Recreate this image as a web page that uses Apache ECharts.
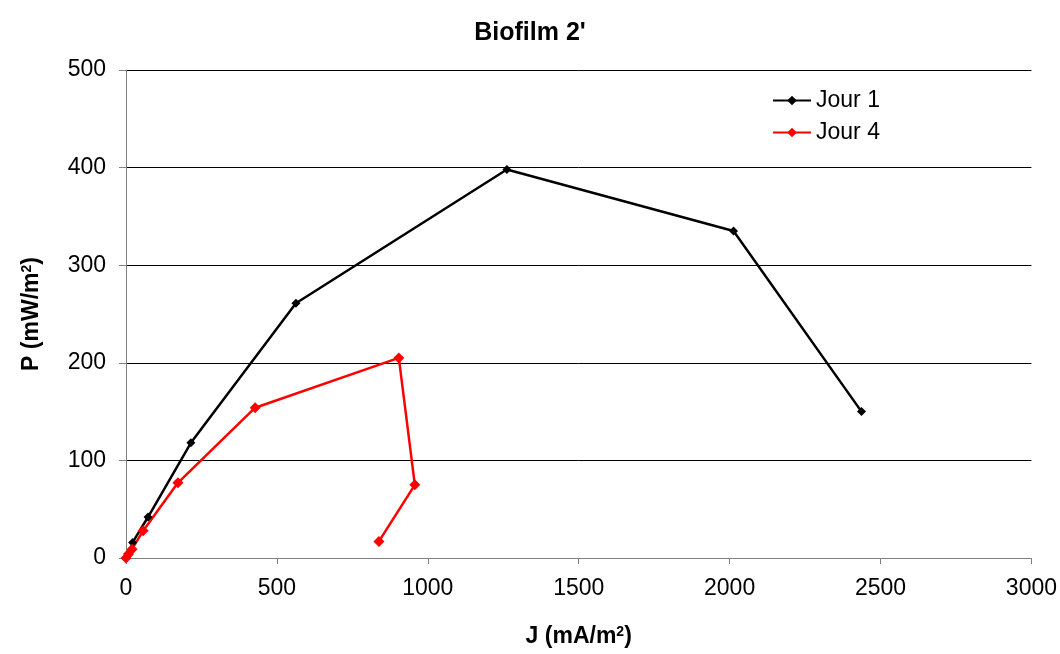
<!DOCTYPE html>
<html><head><meta charset="utf-8">
<script src="https://cdn.jsdelivr.net/npm/echarts@6/dist/echarts.min.js"></script>
<style>html,body{margin:0;padding:0;background:#fff}#c{width:1060px;height:654px}</style>
</head><body><div id="c"></div>
<script>
const jour1J = [0, 8, 22, 73, 215, 563, 1262, 2013, 2437];
const jour1P = [0, 3, 16, 42, 118, 261, 398, 335, 150];
const jour4J = [0, 8, 20, 57, 172, 428, 904, 957, 838];
const jour4P = [0, 4, 9, 28, 77, 154, 205, 75, 17];
const seriesNames = ['Jour 1', 'Jour 4'];
const xTicks = [0, 500, 1000, 1500, 2000, 2500, 3000];
const yTicks = [0, 100, 200, 300, 400, 500];

const pairs = (a, b) => a.map((v, i) => [v, b[i]]);
const font = 'Liberation Sans, Arial, sans-serif';
const nameRich = {
  a: { fontFamily: font, fontWeight: 'bold', fontSize: 23, color: '#000' },
  s: { fontFamily: font, fontWeight: 'bold', fontSize: 14, color: '#000', verticalAlign: 'top', padding: [0, 0, 10, 0] }
};
const chart = echarts.init(document.getElementById('c'));
chart.setOption({
  animation: false,
  title: { text: "Biofilm 2'", left: 'center', top: 16, textStyle: { fontFamily: font, fontWeight: 'bold', fontSize: 25, color: '#000' } },
  legend: {
    orient: 'vertical', left: 767, top: 84, itemGap: 9, itemWidth: 38, itemHeight: 12,
    textStyle: { fontFamily: font, fontSize: 23, color: '#000' },
    data: seriesNames
  },
  grid: { left: 126, right: 28, top: 70, bottom: 96, containLabel: false },
  xAxis: {
    type: 'value', min: xTicks[0], max: xTicks[xTicks.length - 1], interval: 500,
    name: '{a|J (mA/m}{s|2}{a|)}', nameLocation: 'middle', nameGap: 67,
    nameTextStyle: { rich: nameRich },
    axisLine: { show: true, lineStyle: { color: '#808080', width: 1 } },
    axisTick: { show: true, inside: false, length: 6, lineStyle: { color: '#808080' } },
    axisLabel: { fontFamily: font, fontSize: 23, color: '#000', margin: 19, formatter: v => String(v) },
    splitLine: { show: false }
  },
  yAxis: {
    type: 'value', min: yTicks[0], max: yTicks[yTicks.length - 1], interval: 100,
    name: '{a|P (mW/m}{s|2}{a|)}', nameLocation: 'middle', nameGap: 82, nameRotate: 90,
    nameTextStyle: { rich: nameRich },
    axisLine: { show: true, lineStyle: { color: '#808080', width: 1 } },
    axisTick: { show: true, inside: false, length: 7, lineStyle: { color: '#808080' } },
    axisLabel: { fontFamily: font, fontSize: 23, color: '#000', margin: 20, formatter: v => String(v) },
    splitLine: { show: true, lineStyle: { color: '#000', width: 1 } }
  },
  series: [
    { name: seriesNames[0], type: 'line', data: pairs(jour1J, jour1P), symbol: 'diamond', symbolSize: 9,
      lineStyle: { color: '#000', width: 2.5 }, itemStyle: { color: '#000' } },
    { name: seriesNames[1], type: 'line', data: pairs(jour4J, jour4P), symbol: 'diamond', symbolSize: 11,
      lineStyle: { color: '#ff0000', width: 2.5 }, itemStyle: { color: '#ff0000' } }
  ]
});
</script></body></html>
